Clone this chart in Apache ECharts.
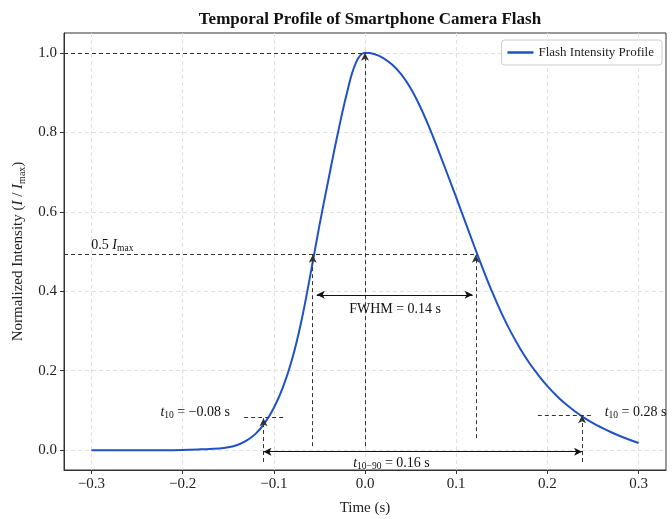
<!DOCTYPE html>
<html><head><meta charset="utf-8">
<script src="https://cdn.jsdelivr.net/npm/echarts@6/dist/echarts.min.js"></script>
<style>html,body{margin:0;padding:0;background:#fff}#c{width:672px;height:519px}</style>
</head><body><div id="c"></div>
<script>
const timeValues = [-0.30,-0.28,-0.26,-0.24,-0.22,-0.20,-0.18,-0.16,-0.15,-0.14,-0.13,-0.12,-0.11,-0.10,-0.09,-0.08,-0.07,-0.06,-0.05,-0.04,-0.03,-0.02,-0.01,0.00,0.01,0.02,0.03,0.04,0.05,0.06,0.07,0.08,0.09,0.10,0.11,0.12,0.13,0.14,0.15,0.16,0.17,0.18,0.19,0.20,0.21,0.22,0.23,0.24,0.25,0.26,0.27,0.28,0.29,0.30];
const intensityValues = [0,0,0,0,0,0.0005,0.002,0.004,0.007,0.013,0.024,0.041,0.068,0.106,0.158,0.228,0.322,0.440,0.565,0.682,0.795,0.897,0.975,1.000,0.997,0.987,0.970,0.945,0.911,0.867,0.815,0.757,0.697,0.636,0.574,0.512,0.452,0.395,0.343,0.297,0.256,0.220,0.189,0.161,0.137,0.116,0.098,0.082,0.068,0.056,0.045,0.035,0.026,0.018];
const xTicks = [-0.3,-0.2,-0.1,0.0,0.1,0.2,0.3];
const yTicks = [0.0,0.2,0.4,0.6,0.8,1.0];

const peakT = 0.0, peakI = 1.0;
const halfI = 0.492;
const fwhmT = [-0.0573, 0.1215];
const t10L = [-0.1113, 0.080];
const t10R = [0.238, 0.088];

const FONT = '"Liberation Serif", "DejaVu Serif", serif';
const TXT = '#111';
const fmt = v => v.toFixed(1).replace('-', '\u2212');
const richStyles = {
  n: {fontFamily: FONT, fontSize: 14, color: TXT, verticalAlign: 'top', lineHeight: 15},
  it: {fontFamily: FONT, fontSize: 14, fontStyle: 'italic', color: TXT, verticalAlign: 'top', lineHeight: 15},
  sub: {fontFamily: FONT, fontSize: 9.5, color: TXT, verticalAlign: 'bottom', lineHeight: 10, padding: [9,0,0,0]}
};
const dash = {color: '#333', type: [4, 3], width: 1};
const solid = {color: '#111', type: 'solid', width: 1};

function seg(a, b, style, syms) {
  return [{coord: a, symbol: syms[0], lineStyle: style}, {coord: b, symbol: syms[1]}];
}

const chart = echarts.init(document.getElementById('c'), null, {renderer: 'canvas'});
chart.setOption({
  animation: false,
  backgroundColor: '#fff',
  title: {
    text: 'Temporal Profile of Smartphone Camera Flash',
    left: 365, textAlign: 'center', top: 6,
    textStyle: {fontFamily: FONT, fontWeight: 'bold', fontSize: 17, color: '#111'}
  },
  legend: {
    data: ['Flash Intensity Profile'],
    right: 10, top: 40,
    padding: [6, 8, 6, 6],
    borderColor: '#ccc', borderWidth: 1, borderRadius: 3,
    backgroundColor: '#fff',
    icon: 'rect', itemWidth: 26, itemHeight: 2.5, itemGap: 6,
    textStyle: {fontFamily: FONT, fontSize: 13, color: '#222'}
  },
  grid: {left: 64, right: 6, top: 33, bottom: 49, show: true, borderColor: '#333', borderWidth: 1, containLabel: false, outerBoundsMode: 'none'},
  xAxis: {
    type: 'value', min: -0.33, max: 0.33,
    name: 'Time (s)', nameLocation: 'middle', nameGap: 31,
    nameTextStyle: {fontFamily: FONT, fontSize: 15, color: '#222'},
    axisLine: {show: true, onZero: false, lineStyle: {color: '#333'}},
    axisTick: {show: true, customValues: xTicks, length: 4, lineStyle: {color: '#333'}},
    axisLabel: {customValues: xTicks, formatter: v => fmt(v), fontFamily: FONT, fontSize: 15, color: '#222', margin: 7},
    splitLine: {show: true, lineStyle: {color: '#e0e0e0', type: [4, 3]}}
  },
  yAxis: {
    type: 'value', min: -0.05, max: 1.05,
    name: '{n|Normalized Intensity (}{it|I}{n| / }{it|I}{sub|max}{n|)}',
    nameLocation: 'middle', nameGap: 37,
    nameTextStyle: {fontFamily: FONT, fontSize: 15, color: '#222', rich: {
      n: {fontFamily: FONT, fontSize: 15, color: '#222', verticalAlign: 'top', lineHeight: 16},
      it: {fontFamily: FONT, fontSize: 15, fontStyle: 'italic', color: '#222', verticalAlign: 'top', lineHeight: 16},
      sub: {fontFamily: FONT, fontSize: 10, color: '#222', verticalAlign: 'bottom', lineHeight: 10, padding: [10,0,0,0]}
    }},
    axisLine: {show: true, onZero: false, lineStyle: {color: '#333'}},
    axisTick: {show: true, customValues: yTicks, length: 4, lineStyle: {color: '#333'}},
    axisLabel: {customValues: yTicks, formatter: v => fmt(v), fontFamily: FONT, fontSize: 15, color: '#222', margin: 7},
    splitLine: {show: true, lineStyle: {color: '#e0e0e0', type: [4, 3]}}
  },
  series: [
    {
      name: 'Flash Intensity Profile', type: 'line', smooth: 0.4,
      data: timeValues.map((t, i) => [t, intensityValues[i]]),
      showSymbol: false, lineStyle: {color: '#1f52c4', width: 2}, itemStyle: {color: '#1f52c4'},
      z: 3
    },
    {
      name: 'annot', type: 'line', data: [], silent: true, z: 4,
      markLine: {
        silent: true, animation: false, symbolSize: [6, 8],
        itemStyle: {color: '#111'},
        label: {show: false},
        data: [
          seg([-0.33, peakI], [peakT, peakI], dash, ['none', 'none']),
          seg([peakT, 0.01], [peakT, peakI], dash, ['none', 'arrow']),
          seg([-0.33, halfI], [fwhmT[1], halfI], dash, ['none', 'none']),
          seg([fwhmT[0], 0.01], [fwhmT[0], halfI], dash, ['none', 'arrow']),
          seg([fwhmT[1], 0.03], [fwhmT[1], halfI], dash, ['none', 'arrow']),
          seg([-0.0529, 0.391], [0.118, 0.391], solid, ['arrow', 'arrow']),
          seg([-0.1325, 0.083], [-0.0887, 0.083], dash, ['none', 'none']),
          seg([t10L[0], -0.03], [t10L[0], t10L[1]], dash, ['none', 'arrow']),
          seg([0.1895, 0.088], [0.2497, 0.088], dash, ['none', 'none']),
          seg([t10R[0], -0.03], [t10R[0], t10R[1]], dash, ['none', 'arrow']),
          seg([t10L[0], -0.004], [t10R[0], -0.004], solid, ['arrow', 'arrow'])
        ]
      }
    },
    {
      name: 'labels', type: 'scatter', silent: true, symbolSize: 0, z: 5,
      itemStyle: {opacity: 1},
      label: {show: true, position: [0, 0], verticalAlign: 'middle', color: TXT, opacity: 1, rich: richStyles},
      data: [
        {value: [-0.3, 0.515], label: {align: 'left', formatter: '{n|0.5 }{it|I}{sub|max}'}},
        {value: [0.033, 0.352], label: {align: 'center', formatter: '{n|FWHM = 0.14 s}'}},
        {value: [-0.148, 0.093], label: {align: 'right', formatter: '{it|t}{sub|10}{n| = \u22120.08 s}'}},
        {value: [0.2628, 0.093], label: {align: 'left', formatter: '{it|t}{sub|10}{n| = 0.28 s}'}},
        {value: [0.029, -0.035], label: {align: 'center', formatter: '{it|t}{sub|10\u221290}{n| = 0.16 s}'}}
      ]
    }
  ]
});
</script>
</body></html>
